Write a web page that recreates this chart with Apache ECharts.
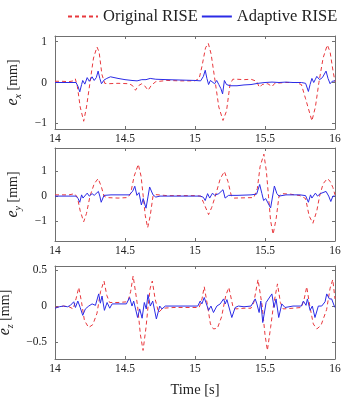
<!DOCTYPE html>
<html>
<head>
<meta charset="utf-8">
<script src="https://cdn.jsdelivr.net/npm/echarts@6/dist/echarts.min.js"></script>
<style>
  html, body { margin: 0; padding: 0; background: #fff; }
  #main { width: 342px; height: 401px; }
</style>
</head>
<body>
<div id="main"></div>
<script>
// time [s] / error [mm] pairs
var origX = [[14.0,0.03],[14.05,0.03],[14.1,0.02],[14.13,0.04],[14.145,0.09],[14.16,-0.1],[14.18,-0.6],[14.205,-0.95],[14.225,-0.6],[14.25,0.0],[14.275,0.6],[14.3,0.87],[14.315,0.75],[14.335,0.2],[14.355,-0.02],[14.38,-0.03],[14.45,-0.02],[14.53,-0.03],[14.555,-0.08],[14.575,-0.19],[14.595,-0.08],[14.62,-0.03],[14.64,-0.08],[14.665,-0.19],[14.69,-0.06],[14.72,0.02],[14.8,0.05],[14.9,0.04],[15.0,0.04],[15.03,0.1],[15.05,0.4],[15.075,0.85],[15.095,0.96],[15.115,0.7],[15.145,0.0],[15.17,-0.6],[15.2,-0.93],[15.225,-0.7],[15.25,-0.05],[15.27,0.08],[15.3,0.08],[15.35,0.07],[15.4,0.08],[15.44,0.03],[15.46,-0.12],[15.48,-0.05],[15.52,-0.03],[15.55,-0.1],[15.57,-0.02],[15.65,0.0],[15.72,0.0],[15.76,-0.05],[15.79,-0.4],[15.835,-0.94],[15.86,-0.6],[15.885,0.0],[15.915,0.6],[15.945,0.92],[15.965,0.75],[15.985,0.3],[16.0,0.02]]
var adaptX = [[14.0,0.0],[14.1,0.0],[14.15,0.0],[14.165,-0.1],[14.177,-0.23],[14.19,-0.05],[14.198,0.05],[14.213,-0.04],[14.23,0.12],[14.245,0.03],[14.265,0.14],[14.28,0.05],[14.295,0.12],[14.308,0.28],[14.32,0.1],[14.332,-0.03],[14.35,0.06],[14.37,0.1],[14.396,0.14],[14.45,0.1],[14.5,0.07],[14.55,0.05],[14.586,0.04],[14.62,0.07],[14.65,0.07],[14.68,0.1],[14.72,0.08],[14.8,0.07],[14.9,0.06],[15.0,0.05],[15.04,0.04],[15.06,0.15],[15.073,0.3],[15.085,0.1],[15.097,-0.05],[15.11,0.05],[15.12,0.09],[15.14,-0.03],[15.155,0.05],[15.17,-0.05],[15.185,-0.15],[15.197,-0.28],[15.21,0.05],[15.225,-0.05],[15.25,-0.08],[15.3,-0.08],[15.35,-0.06],[15.4,-0.05],[15.45,-0.02],[15.5,0.0],[15.55,0.01],[15.6,0.0],[15.65,0.01],[15.7,0.0],[15.76,0.0],[15.79,-0.02],[15.81,-0.22],[15.822,-0.05],[15.835,0.1],[15.848,0.0],[15.86,0.08],[15.87,0.15],[15.89,0.07],[15.91,0.12],[15.936,0.28],[15.95,0.1],[15.965,-0.03],[15.98,0.03],[16.0,0.04]]
var origY = [[14.0,0.05],[14.1,0.05],[14.14,0.1],[14.16,-0.05],[14.18,-0.6],[14.205,-1.04],[14.225,-0.7],[14.25,0.0],[14.28,0.5],[14.308,0.71],[14.33,0.4],[14.35,0.0],[14.37,-0.06],[14.45,-0.08],[14.52,-0.06],[14.54,0.1],[14.565,0.8],[14.595,1.29],[14.615,0.8],[14.63,0.0],[14.645,-0.8],[14.662,-1.28],[14.68,-0.8],[14.7,0.0],[14.72,0.06],[14.8,0.02],[14.9,0.02],[15.0,0.02],[15.04,0.0],[15.06,-0.25],[15.097,-0.75],[15.12,-0.45],[15.145,0.0],[15.18,0.7],[15.21,1.0],[15.235,0.6],[15.26,0.0],[15.28,-0.08],[15.35,-0.07],[15.42,-0.06],[15.445,0.3],[15.465,1.2],[15.492,1.7],[15.51,1.0],[15.525,0.0],[15.54,-1.0],[15.558,-1.55],[15.58,-0.9],[15.6,0.0],[15.62,0.1],[15.68,0.08],[15.75,0.02],[15.79,-0.1],[15.815,-0.8],[15.842,-1.1],[15.87,-0.6],[15.89,0.0],[15.915,0.5],[15.945,0.71],[15.965,0.6],[15.985,0.35],[16.0,0.05]]
var adaptY = [[14.0,0.0],[14.15,0.0],[14.165,-0.1],[14.177,-0.25],[14.19,0.05],[14.2,-0.08],[14.23,0.12],[14.245,0.0],[14.265,0.1],[14.28,0.03],[14.31,0.19],[14.32,0.0],[14.33,-0.25],[14.35,0.03],[14.4,0.05],[14.5,0.05],[14.53,0.05],[14.555,0.2],[14.57,0.4],[14.585,0.03],[14.6,0.14],[14.617,-0.36],[14.63,-0.1],[14.65,-0.49],[14.665,0.0],[14.676,0.37],[14.7,0.05],[14.72,-0.04],[14.75,0.0],[14.9,0.0],[15.04,0.0],[15.06,-0.05],[15.073,-0.18],[15.09,0.1],[15.105,-0.08],[15.125,0.12],[15.14,0.03],[15.17,0.1],[15.2,0.26],[15.215,-0.08],[15.24,0.03],[15.3,0.03],[15.4,0.05],[15.44,0.08],[15.462,0.47],[15.478,0.1],[15.49,-0.18],[15.505,-0.1],[15.54,-0.48],[15.567,0.41],[15.585,0.1],[15.6,0.0],[15.65,0.05],[15.75,0.05],[15.79,0.02],[15.81,-0.25],[15.825,0.05],[15.835,-0.08],[15.86,0.12],[15.875,0.0],[15.895,0.1],[15.936,0.19],[15.955,0.0],[15.97,-0.22],[15.985,0.0],[16.0,0.0]]
var origZ = [[14.0,-0.02],[14.03,-0.01],[14.06,0.0],[14.1,-0.01],[14.13,-0.04],[14.15,0.1],[14.17,0.26],[14.19,0.05],[14.21,-0.2],[14.24,-0.3],[14.27,-0.26],[14.3,-0.1],[14.325,0.2],[14.35,0.35],[14.37,0.15],[14.39,0.05],[14.45,0.05],[14.52,0.06],[14.54,0.2],[14.558,0.42],[14.575,0.2],[14.59,0.0],[14.61,-0.4],[14.629,-0.62],[14.65,-0.3],[14.665,0.0],[14.68,0.25],[14.695,0.35],[14.715,0.1],[14.74,-0.09],[14.77,-0.03],[14.85,-0.02],[14.95,-0.02],[15.03,-0.02],[15.05,0.1],[15.066,0.27],[15.09,0.0],[15.11,-0.25],[15.132,-0.32],[15.16,-0.31],[15.19,-0.15],[15.22,0.15],[15.242,0.26],[15.27,0.0],[15.29,-0.04],[15.35,-0.03],[15.4,-0.03],[15.42,0.05],[15.45,0.37],[15.48,0.0],[15.5,-0.4],[15.517,-0.62],[15.54,-0.3],[15.56,0.0],[15.589,0.31],[15.61,0.05],[15.63,-0.04],[15.7,-0.03],[15.76,-0.02],[15.78,0.1],[15.798,0.27],[15.82,0.0],[15.845,-0.25],[15.87,-0.32],[15.9,-0.27],[15.94,-0.05],[15.965,0.25],[15.984,0.37],[16.0,0.1]]
var adaptZ = [[14.0,-0.03],[14.03,-0.01],[14.06,0.0],[14.09,-0.01],[14.11,0.01],[14.134,0.06],[14.146,-0.02],[14.163,0.07],[14.18,-0.02],[14.198,-0.13],[14.217,-0.04],[14.241,0.0],[14.265,0.03],[14.289,0.01],[14.312,0.17],[14.324,0.04],[14.336,0.14],[14.353,-0.06],[14.372,0.05],[14.391,-0.03],[14.408,0.03],[14.45,0.03],[14.51,0.03],[14.533,0.12],[14.55,0.0],[14.562,0.07],[14.59,-0.16],[14.605,-0.04],[14.622,-0.17],[14.638,0.05],[14.652,-0.04],[14.664,0.16],[14.681,0.0],[14.698,0.07],[14.724,-0.18],[14.748,0.0],[14.764,-0.04],[14.788,0.0],[14.85,0.0],[14.95,0.0],[15.02,0.0],[15.037,0.07],[15.049,0.03],[15.066,0.12],[15.097,-0.06],[15.114,0.0],[15.132,-0.09],[15.156,0.0],[15.18,0.03],[15.204,0.1],[15.216,0.03],[15.228,0.09],[15.263,-0.16],[15.287,-0.02],[15.31,0.0],[15.35,-0.01],[15.4,0.0],[15.43,0.1],[15.442,0.03],[15.458,-0.09],[15.47,0.07],[15.484,-0.23],[15.508,0.05],[15.549,0.17],[15.565,-0.02],[15.579,0.1],[15.598,-0.16],[15.62,0.03],[15.643,-0.02],[15.7,0.0],[15.76,0.0],[15.774,0.07],[15.793,0.01],[15.803,0.1],[15.822,-0.06],[15.838,0.0],[15.857,-0.16],[15.881,0.0],[15.905,0.0],[15.929,0.06],[15.941,0.17],[15.96,0.1],[15.976,0.1],[15.995,0.0],[16.0,-0.02]]

var xTicks = [14, 14.5, 15, 15.5, 16]
var yTicks = [[-1, 0, 1], [-1, 0, 1], [-0.5, 0, 0.5]]
var yRanges = [[-1.14, 1.14], [-1.82, 1.95], [-0.74, 0.56]]
var yNames = ['x', 'y', 'z']

var serif = 'Liberation Serif'
var frame = '#707070'
var red = '#e8383d'
var blue = '#2b2be6'
var tops = [36, 148, 266]

var myChart = echarts.init(document.getElementById('main'))

var grids = [], xAxes = [], yAxes = [], series = []
for (var i = 0; i < 3; i++) {
  grids.push({ left: 55, width: 280, top: tops[i], height: 93, show: false, outerBoundsMode: 'none', containLabel: false })
  // bottom axis with labels, top axis is just the frame with ticks
  xAxes.push({
    type: 'value', gridIndex: i, min: 14, max: 16, position: 'bottom',
    axisLine: { onZero: false, lineStyle: { color: frame, width: 1 } },
    axisTick: { inside: true, length: 3, customValues: xTicks, lineStyle: { color: frame } },
    axisLabel: { customValues: xTicks, margin: 4, color: '#222', fontFamily: serif, fontSize: 11.5 },
    splitLine: { show: false },
    name: i === 2 ? 'Time [s]' : '', nameLocation: 'middle', nameGap: 24,
    nameTextStyle: { fontFamily: serif, fontSize: 14.5, color: '#222' }
  })
  xAxes.push({
    type: 'value', gridIndex: i, min: 14, max: 16, position: 'top',
    axisLine: { onZero: false, lineStyle: { color: frame, width: 1 } },
    axisTick: { inside: true, length: 3, customValues: xTicks, lineStyle: { color: frame } },
    axisLabel: { show: false }, splitLine: { show: false }
  })
  yAxes.push({
    type: 'value', gridIndex: i, min: yRanges[i][0], max: yRanges[i][1], position: 'left',
    axisLine: { show: true, onZero: false, lineStyle: { color: frame, width: 1 } },
    axisTick: { show: true, inside: true, length: 3, customValues: yTicks[i], lineStyle: { color: frame } },
    axisLabel: {
      customValues: yTicks[i], margin: 8, color: '#222', fontFamily: serif, fontSize: 11.5,
      formatter: function (v) { return String(v).replace('-', '\u2212') }
    },
    splitLine: { show: false },
    name: '{e|e}{s|' + yNames[i] + '} [mm]', nameLocation: 'middle', nameRotate: 90, nameGap: 32,
    nameTextStyle: {
      fontFamily: serif, fontSize: 14, color: '#222',
      rich: {
        e: { fontFamily: serif, fontStyle: 'italic', fontSize: 16, color: '#222', lineHeight: 20 },
        s: { fontFamily: serif, fontStyle: 'italic', fontSize: 10, color: '#222', verticalAlign: 'bottom', lineHeight: 20 }
      }
    }
  })
  yAxes.push({
    type: 'value', gridIndex: i, min: yRanges[i][0], max: yRanges[i][1], position: 'right',
    axisLine: { show: true, onZero: false, lineStyle: { color: frame, width: 1 } },
    axisTick: { show: true, inside: true, length: 3, customValues: yTicks[i], lineStyle: { color: frame } },
    axisLabel: { show: false }, splitLine: { show: false }
  })
}

var origs = [origX, origY, origZ]
var adapts = [adaptX, adaptY, adaptZ]
for (var k = 0; k < 3; k++) {
  series.push({
    name: 'Original RISE', type: 'line', xAxisIndex: 2 * k, yAxisIndex: 2 * k,
    data: origs[k], symbol: 'none', animation: false,
    lineStyle: { color: red, width: 1, type: [4, 3] }, itemStyle: { color: red }
  })
  series.push({
    name: 'Adaptive RISE', type: 'line', xAxisIndex: 2 * k, yAxisIndex: 2 * k,
    data: adapts[k], symbol: 'none', animation: false,
    lineStyle: { color: blue, width: 1 }, itemStyle: { color: blue }
  })
}

var option = {
  animation: false,
  legend: {
    left: 62, top: 3, width: 290, itemWidth: 30, itemHeight: 12, itemGap: 3,
    data: ['Original RISE', 'Adaptive RISE'],
    itemStyle: { opacity: 0 },
    textStyle: { fontFamily: serif, fontSize: 16.5, color: '#222' }
  },
  grid: grids,
  xAxis: xAxes,
  yAxis: yAxes,
  series: series
}

myChart.setOption(option)
</script>
</body>
</html>
